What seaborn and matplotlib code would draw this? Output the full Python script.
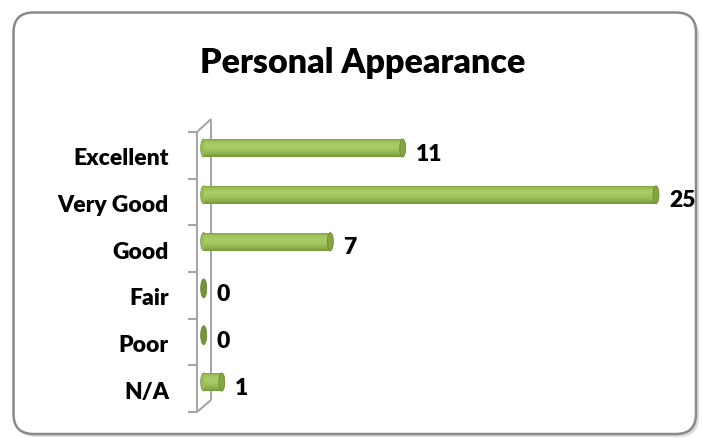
import numpy as np
import pandas as pd
import matplotlib
matplotlib.use("Agg")
import matplotlib.pyplot as plt
import seaborn as sns
from matplotlib.patches import Ellipse, FancyBboxPatch
from matplotlib.transforms import ScaledTranslation, IdentityTransform
from matplotlib.lines import Line2D
from matplotlib.colors import LinearSegmentedColormap

# ---- data ----
categories = ["Excellent", "Very Good", "Good", "Fair", "Poor", "N/A"]
counts = [11, 25, 7, 0, 0, 1]
title = "Personal Appearance"

sns.set_theme(style="white")
plt.rcParams['font.family'] = ['Lato', 'DejaVu Sans']

W, H = 702, 439
DPI = 100
WEIGHT = 800
LABEL_FS = 16.5
fig = plt.figure(figsize=(W / DPI, H / DPI), dpi=DPI)
fig.patch.set_facecolor("white")


def px_axes(l, t, r, b):
    return [l / W, 1 - b / H, (r - l) / W, (b - t) / H]


def pt(px):
    return px * 72.0 / DPI


# ---- frame (rounded border with soft shadow) ----
shadow = FancyBboxPatch((16.5, H - 438), 682.5, 421.5,
                        boxstyle="round,pad=0,rounding_size=20",
                        transform=IdentityTransform(), facecolor="#dcdcdc",
                        edgecolor="none", zorder=-5)
frame = FancyBboxPatch((13.5, H - 435), 682.5, 421.5,
                       boxstyle="round,pad=0,rounding_size=20",
                       transform=IdentityTransform(), facecolor="white",
                       edgecolor="#8a8a8a", lw=1.8, zorder=-4)
fig.add_artist(shadow)
fig.add_artist(frame)

# ---- axes ----
px0, pxr = 203.7, 680.0
scale = 18.09  # pixels per unit
ax = fig.add_axes(px_axes(px0, 125.6, pxr, 406.4))
ax.set_facecolor("none")

df = pd.DataFrame({"category": categories, "count": counts})
sns.barplot(data=df, x="count", y="category", orient="h", width=0.385,
            color="#9BBB59", saturation=1, linewidth=0, ax=ax)

xmax = (pxr - px0) / scale
cap_w = 6.0 / scale

cmap = LinearSegmentedColormap.from_list(
    "cyl", ["#7C9C3E", "#A2C65E", "#A9CD67", "#A2C660", "#92B450", "#76963A"])
grad = np.linspace(0, 1, 64).reshape(-1, 1)

for p, v in zip(ax.patches, counts):
    x0, y0 = p.get_x(), p.get_y()
    w, h = p.get_width(), p.get_height()
    yc = y0 + h / 2
    if w > 0:
        im = ax.imshow(grad, extent=(x0, x0 + w, y0 + h, y0), origin="upper",
                       aspect="auto", cmap=cmap, zorder=2.1,
                       interpolation="bilinear")
        im.set_clip_path(p)
        p.set_facecolor("none")
        p.set_zorder(2.2)
        # start cap (left rounded end)
        ax.add_patch(Ellipse((x0, yc), cap_w, h, facecolor="#98BD56",
                             edgecolor="#7A9A3A", lw=0.6, zorder=2.0,
                             clip_on=False))
        # end cap
        ax.add_patch(Ellipse((x0 + w, yc), cap_w, h, facecolor="#84A446",
                             edgecolor="#6E8E35", lw=0.6, zorder=2.4,
                             clip_on=False))
    else:
        p.set_visible(False)
        ax.add_patch(Ellipse((x0, yc), cap_w, h * 1.05, facecolor="#74933C",
                             edgecolor="#6A8934", lw=0.6, zorder=2.4,
                             clip_on=False))
    ax.annotate(str(v), xy=(x0 + w, yc), xytext=(pt(13), -pt(11.7)),
                textcoords="offset points", ha="left", va="baseline",
                fontsize=LABEL_FS, fontweight=WEIGHT, color="black",
                annotation_clip=False)

ax.set_xlim(0, xmax)
ax.set_ylim(5.5, -0.5)
ax.set_xticks([])
ax.set_xlabel("")
ax.set_ylabel("")
for s in ax.spines.values():
    s.set_visible(False)

ax.set_yticks(range(len(categories)), labels=categories)
ax.tick_params(axis="y", length=0, pad=pt(34.7))
off = ScaledTranslation(0, -16.0 / DPI, fig.dpi_scale_trans)
for lab in ax.get_yticklabels():
    lab.set_fontsize(LABEL_FS)
    lab.set_fontweight(WEIGHT)
    lab.set_color("black")
    lab.set_verticalalignment("baseline")
    lab.set_transform(lab.get_transform() + off)

# ---- 3-D wall of the category axis ----
wall = "#A6A6A6"
def wline(xs, ys):
    fig.add_artist(Line2D(xs, [H - y for y in ys], transform=IdentityTransform(),
                          color=wall, lw=1.5, zorder=-1, solid_capstyle="butt"))

wline([197, 197], [133, 413])
wline([211, 211], [120, 401])
wline([197, 211], [133, 120])
wline([197, 211], [413, 401])
for k in range(len(categories) + 1):
    yy = 133 + k * (413 - 133) / len(categories)
    wline([188, 197], [yy, yy])

# ---- title ----
fig.text(362.5 / W, 1 - 72.7 / H, title, ha="center", va="baseline",
         fontsize=24.5, fontweight=WEIGHT, color="black")

fig.savefig("out.png", dpi=DPI)
